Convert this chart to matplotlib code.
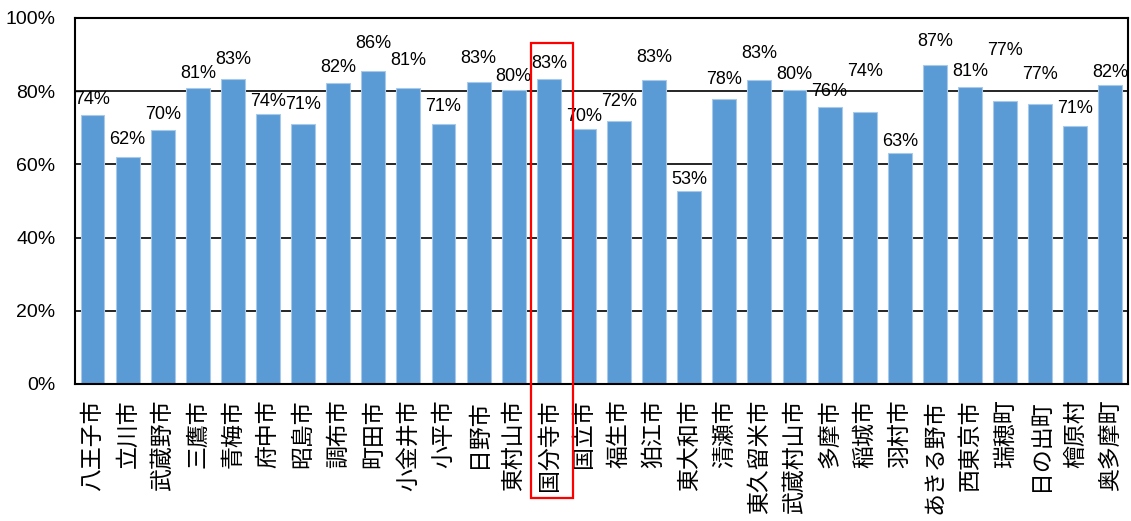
# -*- coding: utf-8 -*-
import matplotlib
matplotlib.use('Agg')
import matplotlib.pyplot as plt
from matplotlib.patches import Rectangle
from matplotlib.ticker import PercentFormatter

# municipalities (Tama area) and rate in %
cities = ['八王子市', '立川市', '武蔵野市', '三鷹市', '青梅市', '府中市', '昭島市',
          '調布市', '町田市', '小金井市', '小平市', '日野市', '東村山市', '国分寺市',
          '国立市', '福生市', '狛江市', '東大和市', '清瀬市', '東久留米市',
          '武蔵村山市', '多摩市', '稲城市', '羽村市', 'あきる野市', '西東京市',
          '瑞穂町', '日の出町', '檜原村', '奥多摩町']
rates = [73.5, 61.9, 69.4, 80.8, 83.2, 73.7, 70.9, 82.3, 85.6, 80.8,
         70.9, 82.4, 80.3, 83.3, 69.7, 71.8, 83.0, 52.8, 77.9, 83.1,
         80.3, 75.7, 74.2, 63.1, 87.2, 81.1, 77.3, 76.6, 70.4, 81.6]
labels = ['74%', '62%', '70%', '81%', '83%', '74%', '71%', '82%', '86%', '81%',
          '71%', '83%', '80%', '83%', '70%', '72%', '83%', '53%', '78%', '83%',
          '80%', '76%', '74%', '63%', '87%', '81%', '77%', '77%', '71%', '82%']
highlight = '国分寺市'

# gap between bar top and its label (pixels), the way the spreadsheet placed them
label_gap = [7, 9, 7, 6, 11, 4, 11, 7, 19, 19, 9, 15, 5, 7, 4,
             11, 14, 3, 11, 18, 7, 7, 32, 3, 15, 7, 42, 21, 9, 4]

num_font = ['Liberation Sans', 'DejaVu Sans']
jp_font = ['Noto Sans CJK JP', 'DejaVu Sans']

fig = plt.figure(figsize=(11.31, 5.21), dpi=100)
ax = fig.add_axes([0.0663, 0.263, 0.9310, 0.7025])

x = list(range(len(cities)))
ax.bar(x, rates, width=0.68, color='#5B9BD5', edgecolor='#A9C9EA',
       linewidth=0.8, zorder=2)

for i, (v, t) in enumerate(zip(rates, labels)):
    ax.annotate(t, (i, v), xytext=(0, label_gap[i]), textcoords='offset pixels',
                ha='center', va='bottom', fontsize=13, family=num_font,
                color='black', zorder=4)

ax.set_xlim(-0.5, len(cities) - 0.5)
ax.set_ylim(0, 100)
ax.set_yticks([0, 20, 40, 60, 80, 100])
ax.yaxis.set_major_formatter(PercentFormatter(decimals=0))
ax.grid(axis='y', color='black', linewidth=1.2, zorder=1)
ax.set_axisbelow(True)

ax.set_xticks(x)
ax.set_xticklabels(cities, rotation=90, family=jp_font, fontsize=16.5)
ax.tick_params(axis='x', length=0, pad=11)
ax.tick_params(axis='y', length=0, pad=14)
for lab in ax.get_yticklabels():
    lab.set_family(num_font)
    lab.set_fontsize(14)

for s in ax.spines.values():
    s.set_linewidth(1.5)
    s.set_color('black')

# red frame around the highlighted city, reaching down over its label
k = cities.index(highlight)
ax.add_patch(Rectangle((k - 0.51, -31.1), 1.2, 124.3, fill=False,
                       edgecolor='#FF0000', linewidth=1.6, clip_on=False,
                       zorder=5))

fig.savefig('out.png', dpi=100)
